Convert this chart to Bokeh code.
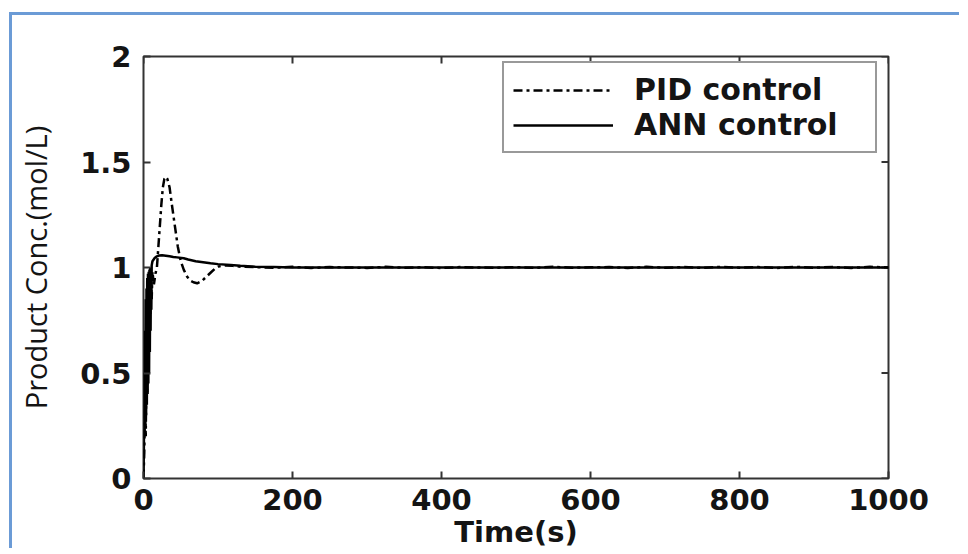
import math
from bokeh.plotting import figure
from bokeh.models import FixedTicker, Range1d
from bokeh.embed import file_html
from bokeh.resources import INLINE

# ---- data ----
x_ticks = [0, 200, 400, 600, 800, 1000]
y_ticks = [0, 0.5, 1, 1.5, 2]
y_tick_labels = {0: "0", 0.5: "0.5", 1: "1", 1.5: "1.5", 2: "2"}

pid_time = [0, 1, 2, 3, 4, 5, 6, 7, 8, 9, 10, 11, 12, 14, 16, 18, 20, 22, 24, 26,
            28, 30, 32, 35, 38, 42, 46, 50, 54, 58, 62, 67, 72, 78, 84, 90, 96, 101,
            110, 120, 130,
            150, 175, 200, 225, 250, 275, 300, 325, 350, 375, 400, 425, 450, 475, 500,
            525, 550, 575, 600, 625, 650, 675, 700, 725, 750, 775, 800, 825, 850, 875,
            900, 925, 950, 975, 1000]
pid_conc = [0.0, 0.12, 0.35, 0.2, 0.55, 0.4, 0.75, 0.6, 0.9, 0.78, 0.95, 0.85, 0.98, 0.92,
            0.97, 1.0, 1.1, 1.2, 1.3, 1.38, 1.42, 1.43, 1.42, 1.38, 1.3, 1.2, 1.1, 1.03,
            0.99, 0.96, 0.94, 0.93, 0.925, 0.935, 0.955, 0.975, 0.995, 1.005,
            1.01, 1.008, 1.004,
            1.002, 0.999, 1.003, 0.998, 1.002, 1.0, 0.998, 1.003, 0.999, 1.001, 0.998,
            1.002, 1.0, 0.999, 1.002, 0.998, 1.003, 0.999, 1.001, 1.002, 0.998, 1.003,
            0.999, 1.002, 0.998, 1.003, 0.999, 1.002, 0.998, 1.003, 0.999, 1.002, 0.998,
            1.003, 1.0]

ann_time = [0, 0.5, 1, 1.5, 2, 2.5, 3, 3.5, 4, 4.5, 5, 5.5, 6, 6.5, 7, 7.5, 8, 8.5,
            9, 9.5, 10, 10.5, 11, 12,
            15, 18, 21, 25, 30, 35, 40, 45, 54, 60, 70, 80, 90, 100, 117, 130, 150,
            175, 200, 300, 400, 500, 600, 700, 800, 900, 1000]
ann_conc = [0.0, 0.15, 0.5, 0.2, 0.7, 0.25, 0.85, 0.3, 0.9, 0.35, 0.95, 0.4, 0.97, 0.45,
            0.98, 0.5, 0.99, 0.6, 1.0, 0.7, 1.0, 0.8, 1.01, 1.03,
            1.045, 1.053, 1.057, 1.058, 1.056, 1.053,
            1.05, 1.048, 1.044, 1.038, 1.03, 1.025, 1.02, 1.016, 1.012, 1.008, 1.004,
            1.002, 1.0, 1.0, 1.0, 1.0, 1.0, 1.0, 1.0, 1.0, 1.0]

series_labels = ["PID control", "ANN control"]

TXT = "#141414"
FRAME = "#333333"
TICK_FONT = "DejaVu Sans"
X_MIN, X_MAX, Y_MIN, Y_MAX = 0, 1000, 0, 2

p = figure(width=950, height=536, x_range=Range1d(X_MIN, X_MAX), y_range=Range1d(Y_MIN, Y_MAX),
           output_backend="svg", toolbar_location=None,
           min_border_left=131, min_border_right=74, min_border_top=41, min_border_bottom=71,
           background_fill_color="white", border_fill_color="white")
p.styles = {"margin-top": "12px", "margin-left": "9px",
            "border-top": "3px solid #6b9bd6", "border-left": "3px solid #6b9bd6"}

p.grid.visible = False
p.outline_line_color = FRAME
p.outline_line_width = 2

for ax in [p.xaxis[0], p.yaxis[0]]:
    ax.axis_line_color = None
    ax.major_tick_in = 7
    ax.major_tick_out = 0
    ax.major_tick_line_color = FRAME
    ax.major_tick_line_width = 2
    ax.minor_tick_line_color = None
    ax.major_label_text_font = TICK_FONT
    ax.major_label_text_font_style = "bold"
    ax.major_label_text_font_size = "29px"
    ax.major_label_text_color = TXT

p.xaxis[0].ticker = FixedTicker(ticks=x_ticks)
p.yaxis[0].ticker = FixedTicker(ticks=y_ticks)
p.yaxis[0].major_label_overrides = y_tick_labels
p.xaxis[0].major_label_standoff = 10
p.yaxis[0].major_label_standoff = 12

p.xaxis[0].axis_label = "Time(s)"
p.xaxis[0].axis_label_text_font = TICK_FONT
p.xaxis[0].axis_label_text_font_style = "bold"
p.xaxis[0].axis_label_text_font_size = "29px"
p.xaxis[0].axis_label_text_color = TXT
p.xaxis[0].axis_label_standoff = 2

p.yaxis[0].axis_label = "Product Conc.(mol/L)"
p.yaxis[0].axis_label_text_font = "Open Sans"
p.yaxis[0].axis_label_text_font_style = "normal"
p.yaxis[0].axis_label_text_font_size = "29px"
p.yaxis[0].axis_label_text_color = TXT
p.yaxis[0].axis_label_standoff = 22

# inward ticks on the top and right edges of the box
p.ray(x=x_ticks, y=[Y_MAX] * len(x_ticks), length=7, length_units="screen",
      angle=-math.pi / 2, line_color=FRAME, line_width=2)
p.ray(x=[X_MAX] * len(y_ticks), y=y_ticks, length=7, length_units="screen",
      angle=math.pi, line_color=FRAME, line_width=2)

p.line(pid_time, pid_conc, line_color="black", line_width=2.5, line_dash="9 4 3 4",
       legend_label=series_labels[0])
p.line(ann_time, ann_conc, line_color="black", line_width=2.5,
       legend_label=series_labels[1])

lg = p.legend[0]
lg.location = (359, 325)
lg.border_line_color = FRAME
lg.border_line_width = 2
lg.background_fill_color = "white"
lg.background_fill_alpha = 1
lg.padding = 9
lg.spacing = 0
lg.margin = 0
lg.glyph_width = 100
lg.label_standoff = 21
lg.label_width = 232
lg.label_text_font = TICK_FONT
lg.label_text_font_style = "bold"
lg.label_text_font_size = "30px"
lg.label_text_color = TXT

open("out.html", "w").write(file_html(p, INLINE))
